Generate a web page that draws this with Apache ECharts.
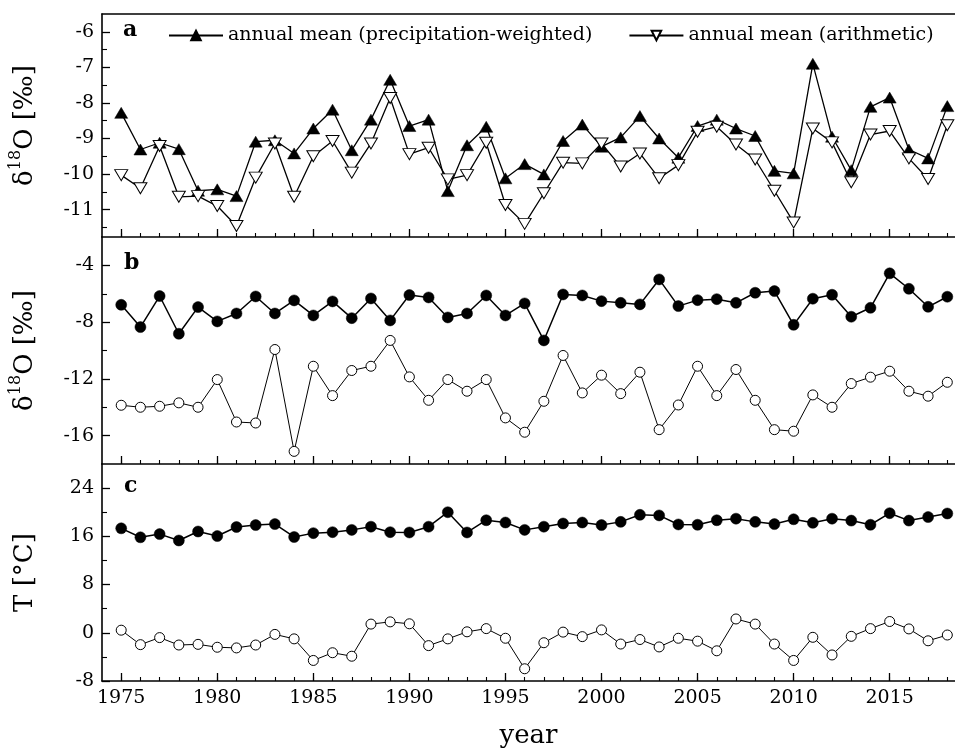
<!DOCTYPE html>
<html>
<head>
<meta charset="utf-8">
<script src="https://cdn.jsdelivr.net/npm/echarts@6/dist/echarts.min.js"></script>
<style>html,body{margin:0;padding:0;background:#fff}#c{width:955px;height:750px}</style>
</head>
<body>
<div id="c"></div>
<script>
const years = [1975,1976,1977,1978,1979,1980,1981,1982,1983,1984,1985,1986,1987,1988,1989,1990,1991,1992,1993,1994,1995,1996,1997,1998,1999,2000,2001,2002,2003,2004,2005,2006,2007,2008,2009,2010,2011,2012,2013,2014,2015,2016,2017,2018];

// panel a: delta18O annual means
const aWeighted = [-8.28,-9.31,-9.12,-9.30,-10.47,-10.43,-10.62,-9.09,-9.05,-9.42,-8.72,-8.19,-9.33,-8.47,-7.35,-8.65,-8.47,-10.48,-9.19,
  -8.67,-10.12,-9.72,-10.01,-9.07,-8.61,-9.23,-8.97,-8.37,-9.00,-9.54,-8.65,-8.47,-8.72,-8.93,-9.91,-9.98,-6.90,-8.95,-9.89,-8.11,-7.85,-9.31,-9.56,-8.09];
const aArith = [-10.03,-10.40,-9.21,-10.64,-10.62,-10.90,-11.46,-10.10,-9.14,-10.64,-9.50,-9.07,-9.96,-9.14,-7.86,-9.44,-9.26,-10.15,-10.03,
  -9.12,-10.87,-11.40,-10.54,-9.68,-9.70,-9.14,-9.79,-9.42,-10.12,-9.75,-8.81,-8.67,-9.17,-9.59,-10.47,-11.36,-8.72,-9.11,-10.23,-8.89,-8.79,-9.56,-10.14,-8.63];

// panel b: delta18O (filled / open circles)
const bFilled = [-6.78,-8.35,-6.16,-8.82,-6.94,-7.95,-7.39,-6.19,-7.39,-6.47,-7.53,-6.54,-7.72,-6.33,-7.88,-6.09,-6.26,-7.67,-7.39,
  -6.12,-7.53,-6.68,-9.29,-6.05,-6.12,-6.52,-6.64,-6.75,-4.99,-6.87,-6.45,-6.38,-6.64,-5.93,-5.81,-8.19,-6.35,-6.07,-7.62,-6.99,-4.56,-5.65,-6.92,-6.21];
const bOpen = [-13.86,-14.00,-13.93,-13.69,-14.00,-12.05,-15.04,-15.11,-9.93,-17.11,-11.11,-13.18,-11.41,-11.11,-9.29,-11.86,-13.51,-12.05,-12.87,
  -12.05,-14.75,-15.76,-13.58,-10.35,-12.99,-11.74,-13.04,-11.53,-15.58,-13.84,-11.11,-13.18,-11.34,-13.51,-15.58,-15.69,-13.13,-14.00,-12.33,-11.88,-11.46,-12.87,-13.22,-12.24];

// panel c: temperature (filled / open circles)
const cFilled = [17.33,15.84,16.37,15.31,16.80,16.05,17.55,17.87,18.03,15.89,16.53,16.69,17.07,17.60,16.69,16.64,17.60,20.00,16.64,
  18.67,18.29,17.07,17.60,18.13,18.29,17.87,18.40,19.57,19.47,17.97,17.92,18.67,18.93,18.40,18.03,18.83,18.24,18.93,18.61,17.92,19.84,18.61,19.20,19.79];
const cOpen = [0.43,-1.97,-0.80,-2.03,-1.92,-2.40,-2.51,-2.03,-0.27,-1.01,-4.59,-3.31,-3.89,1.44,1.81,1.49,-2.13,-1.01,0.16,
  0.69,-0.91,-5.97,-1.65,0.11,-0.64,0.48,-1.87,-1.12,-2.35,-0.91,-1.39,-2.99,2.29,1.44,-1.87,-4.59,-0.75,-3.68,-0.59,0.69,1.87,0.64,-1.33,-0.37];

// ticks
const xMajor = [1975,1980,1985,1990,1995,2000,2005,2010,2015];
const xMinor = years;
const yMajorA = [-11,-10,-9,-8,-7,-6];
const yMinorA = [-11.5,-10.5,-9.5,-8.5,-7.5,-6.5];
const yMajorB = [-16,-12,-8,-4];
const yMinorB = [-14,-10,-6];
const yMajorC = [-8,0,8,16,24];
const yMinorC = [-4,4,12,20];

const legendNames = ['annual mean (precipitation-weighted)', 'annual mean (arithmetic)'];

const FONT = 'DejaVu Serif';
const black = '#000';

const zip = (ys) => years.map((y, i) => [y, ys[i]]);

const grids = [
  {left: 102, right: 0, top: 14, height: 223},
  {left: 102, right: 0, top: 237, height: 227},
  {left: 102, right: 0, top: 464, height: 224}
];

const xRange = {min: 1974.0, max: 2018.4};

const xAxes = [];
const yAxes = [];
const yRanges = [{min: -11.77, max: -5.5}, {min: -18, max: -2}, {min: -8, max: 28}];
const yMaj = [yMajorA, yMajorB, yMajorC];
const yMin = [yMinorA, yMinorB, yMinorC];

for (let g = 0; g < 3; g++) {
  xAxes.push({
    type: 'value', gridIndex: g, position: 'bottom', ...xRange,
    axisLine: {show: true, onZero: false, lineStyle: {color: black, width: 1.6}},
    axisTick: {show: true, inside: true, length: 8, customValues: xMajor, lineStyle: {color: black, width: 1.3}},
    axisLabel: {show: g === 2, customValues: xMajor, formatter: (v) => String(v), color: black, fontFamily: FONT, fontSize: 19, margin: 8},
    splitLine: {show: false},
    name: g === 2 ? 'year' : '', nameLocation: 'middle', nameGap: 42,
    nameTextStyle: {color: black, fontFamily: FONT, fontSize: 26}
  });
  xAxes.push({
    type: 'value', gridIndex: g, position: 'bottom', ...xRange,
    axisLine: {show: false, onZero: false},
    axisTick: {show: true, inside: true, length: 4, customValues: xMinor, lineStyle: {color: black, width: 1.1}},
    axisLabel: {show: false}, splitLine: {show: false}
  });
  yAxes.push({
    type: 'value', gridIndex: g, position: 'left', ...yRanges[g],
    axisLine: {show: true, onZero: false, lineStyle: {color: black, width: 1.6}},
    axisTick: {show: true, inside: true, length: 8, customValues: yMaj[g], lineStyle: {color: black, width: 1.3}},
    axisLabel: {show: true, customValues: yMaj[g], color: black, fontFamily: FONT, fontSize: 19, margin: 8},
    splitLine: {show: false},
    name: g === 2 ? 'T [°C]' : '{n|δ}{s|18}{n|O [‰]}',
    nameLocation: 'middle', nameRotate: 90, nameGap: 64,
    nameTextStyle: {
      color: black, fontFamily: FONT, fontSize: 26,
      rich: {
        n: {fontFamily: FONT, fontSize: 26, color: black, verticalAlign: 'bottom', lineHeight: 30},
        s: {fontFamily: FONT, fontSize: 16, color: black, verticalAlign: 'top', lineHeight: 30}
      }
    }
  });
  yAxes.push({
    type: 'value', gridIndex: g, position: 'left', ...yRanges[g],
    axisLine: {show: false, onZero: false},
    axisTick: {show: true, inside: true, length: 5, customValues: yMin[g], lineStyle: {color: black, width: 1.1}},
    axisLabel: {show: false}, splitLine: {show: false}
  });
}
xAxes.push({
  type: 'value', gridIndex: 0, position: 'top', ...xRange,
  axisLine: {show: true, onZero: false, lineStyle: {color: black, width: 1.6}},
  axisTick: {show: false}, axisLabel: {show: false}, splitLine: {show: false}
});

const series = [
  {
    name: legendNames[0], type: 'line', xAxisIndex: 0, yAxisIndex: 0, data: zip(aWeighted),
    symbol: 'triangle', symbolSize: [13, 11], showAllSymbol: true,
    lineStyle: {color: black, width: 1.3}, itemStyle: {color: black, borderColor: black, borderWidth: 0.5}
  },
  {
    name: legendNames[1], type: 'line', xAxisIndex: 0, yAxisIndex: 0, data: zip(aArith),
    symbol: 'triangle', symbolRotate: 180, symbolSize: [13, 11], showAllSymbol: true,
    lineStyle: {color: black, width: 1.3}, itemStyle: {color: '#fff', borderColor: black, borderWidth: 1}
  },
  {
    type: 'line', xAxisIndex: 2, yAxisIndex: 2, data: zip(bFilled),
    symbol: 'circle', symbolSize: 11, showAllSymbol: true,
    lineStyle: {color: black, width: 1.5}, itemStyle: {color: black, borderColor: black, borderWidth: 0.5}
  },
  {
    type: 'line', xAxisIndex: 2, yAxisIndex: 2, data: zip(bOpen),
    symbol: 'circle', symbolSize: 10, showAllSymbol: true,
    lineStyle: {color: black, width: 1}, itemStyle: {color: '#fff', borderColor: black, borderWidth: 1}
  },
  {
    type: 'line', xAxisIndex: 4, yAxisIndex: 4, data: zip(cFilled),
    symbol: 'circle', symbolSize: 11, showAllSymbol: true,
    lineStyle: {color: black, width: 1.5}, itemStyle: {color: black, borderColor: black, borderWidth: 0.5}
  },
  {
    type: 'line', xAxisIndex: 4, yAxisIndex: 4, data: zip(cOpen),
    symbol: 'circle', symbolSize: 10, showAllSymbol: true,
    lineStyle: {color: black, width: 1}, itemStyle: {color: '#fff', borderColor: black, borderWidth: 1}
  }
];

const chart = echarts.init(document.getElementById('c'), null, {renderer: 'canvas'});
chart.setOption({
  animation: false,
  backgroundColor: '#fff',
  grid: grids,
  xAxis: xAxes,
  yAxis: yAxes,
  series: series,
  legend: {
    data: legendNames, left: 163, top: 21, itemWidth: 54, itemHeight: 12, itemGap: 36,
    textStyle: {color: black, fontFamily: FONT, fontSize: 19}
  },
  graphic: [
    {type: 'text', left: 123, top: 19, style: {text: 'a', font: 'bold 22px "DejaVu Serif"', fill: black}},
    {type: 'text', left: 124, top: 252, style: {text: 'b', font: 'bold 22px "DejaVu Serif"', fill: black}},
    {type: 'text', left: 124, top: 475, style: {text: 'c', font: 'bold 22px "DejaVu Serif"', fill: black}}
  ]
});
</script>
</body>
</html>
